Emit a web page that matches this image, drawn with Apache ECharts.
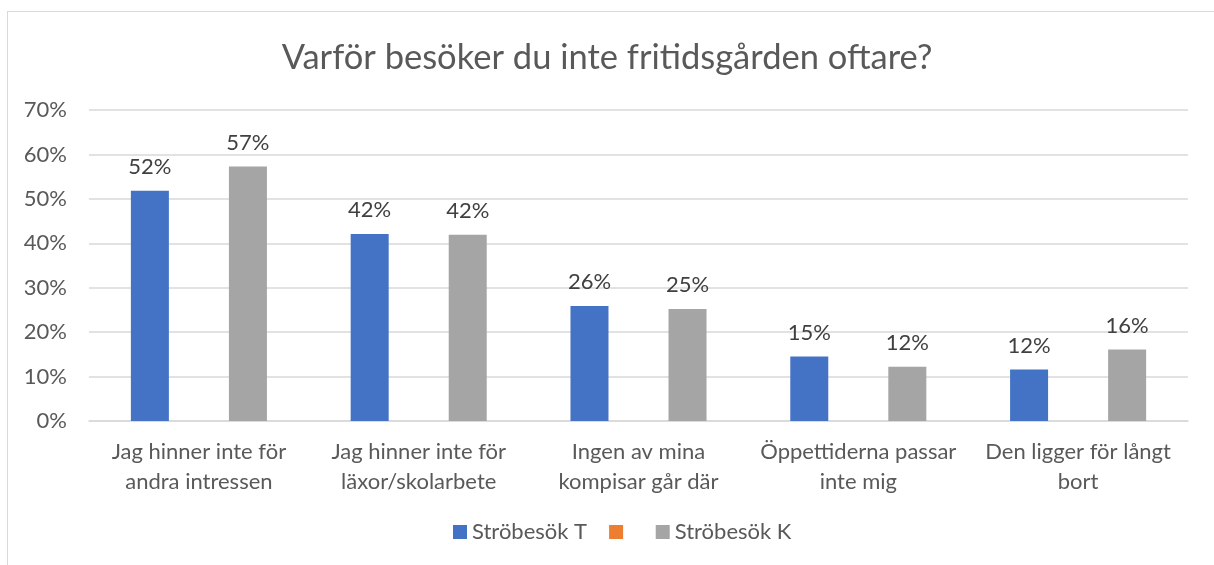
<!DOCTYPE html>
<html>
<head>
<meta charset="utf-8">
<script src="https://cdn.jsdelivr.net/npm/echarts@6/dist/echarts.min.js"></script>
<style>
  html, body { margin: 0; padding: 0; background: #fff; }
  #frame {
    position: absolute; left: 7px; top: 11px; width: 1214px; height: 565px;
    border-top: 1px solid #d9d9d9; border-left: 1px solid #d9d9d9;
  }
  #chart { position: absolute; left: 0; top: 0; width: 1214px; height: 565px; }
</style>
</head>
<body>
<div id="frame"></div>
<div id="chart"></div>
<script>
// kategorier och värden (procent)
var categories = [
  "Jag hinner inte för\nandra intressen",
  "Jag hinner inte för\nläxor/skolarbete",
  "Ingen av mina\nkompisar går där",
  "Öppettiderna passar\ninte mig",
  "Den ligger för långt\nbort"
];
var stroT = [51.8, 42.1, 25.9, 14.5, 11.6];
var tomSerie = [null, null, null, null, null];
var stroK = [57.3, 41.9, 25.2, 12.2, 16.1];

var font = "Lato, 'Open Sans', sans-serif";

var label = {
  show: true,
  position: "top",
  distance: 13,
  color: "#404040",
  fontSize: 22,
  fontFamily: font,
  formatter: function (p) { return Math.round(p.value) + "%"; }
};

var chart = echarts.init(document.getElementById("chart"));
var option = {
  animation: false,
  title: {
    text: "Varför besöker du inte fritidsgården oftare?",
    left: "center",
    top: 35,
    textStyle: { color: "#595959", fontSize: 34.5, fontWeight: "normal", fontFamily: font }
  },
  legend: {
    bottom: 17,
    left: 448,
    icon: "rect",
    itemWidth: 14,
    itemHeight: 14,
    itemGap: 22,
    textStyle: { color: "#595959", fontSize: 22, fontFamily: font },
    data: ["Ströbesök T", " ", "Ströbesök K"]
  },
  grid: { left: 89, right: 26, top: 110, bottom: 144 },
  xAxis: {
    type: "category",
    data: categories,
    axisTick: { show: false },
    axisLine: { lineStyle: { color: "#d9d9d9", width: 1.5 } },
    axisLabel: {
      color: "#595959", fontSize: 22, fontFamily: font,
      lineHeight: 30, margin: 16, interval: 0
    }
  },
  yAxis: {
    type: "value",
    min: 0,
    max: 70,
    interval: 10,
    axisLabel: {
      formatter: "{value}%", color: "#595959", fontSize: 22,
      fontFamily: font, margin: 22
    },
    splitLine: { lineStyle: { color: "#d9d9d9", width: 1.5 } }
  },
  series: [
    {
      name: "Ströbesök T", type: "bar", data: stroT,
      barWidth: 38, barGap: "29%",
      itemStyle: { color: "#4472C4" }, label: label
    },
    {
      name: " ", type: "bar", data: tomSerie,
      barWidth: 38, barGap: "29%",
      itemStyle: { color: "#ED7D31" }
    },
    {
      name: "Ströbesök K", type: "bar", data: stroK,
      barWidth: 38, barGap: "29%",
      itemStyle: { color: "#A5A5A5" }, label: label
    }
  ]
};
chart.setOption(option);
</script>
</body>
</html>
